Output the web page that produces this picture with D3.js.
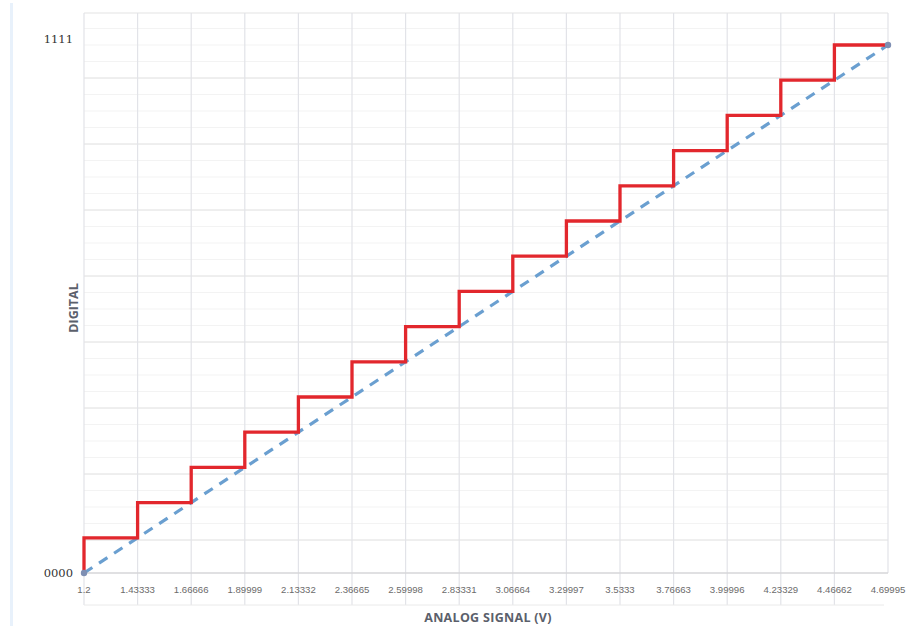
<!DOCTYPE html>
<html><head><meta charset="utf-8">
<script src="https://cdn.jsdelivr.net/npm/d3@7"></script>
<style>
html,body{margin:0;padding:0;background:#fff;}
svg{display:block;}
</style></head>
<body>
<svg id="chart" width="907" height="626"></svg>
<script>
// ---- data ----
const analogTicks = ["1.2","1.43333","1.66666","1.89999","2.13332","2.36665","2.59998","2.83331","3.06664","3.29997","3.5333","3.76663","3.99996","4.23329","4.46662","4.69995"];
const analogValues = [1.2,1.43333,1.66666,1.89999,2.13332,2.36665,2.59998,2.83331,3.06664,3.29997,3.5333,3.76663,3.99996,4.23329,4.46662,4.69995];
const digitalLevels = [1,2,3,4,5,6,7,8,9,10,11,12,13,14,15,15];
const idealLine = [[1.2,0],[4.69995,15]];
const yTickValues = [0,15];
const yTickLabels = ["0000","1111"];

const svg = d3.select("#chart");
const left = 84, right = 888, bottom = 573, top15 = 45, frameTop = 13, tableBottom = 605;

const x = d3.scaleLinear().domain([analogValues[0], analogValues[analogValues.length-1]]).range([left, right]);
const y = d3.scaleLinear().domain([0, 15]).range([bottom, top15]);
const yMax = y.invert(frameTop);

// faint left strip
svg.append("rect").attr("x",10).attr("y",3).attr("width",3).attr("height",623).attr("fill","#e8f1fb");

// minor horizontal gridlines
const majorStep = 15/8;
const minorVals = d3.range(0, 33).map(k => majorStep/2 + k*majorStep/4).filter(v => v > 0.1 && v < yMax);
svg.append("g").selectAll("line").data(minorVals).join("line")
  .attr("x1", left).attr("x2", right)
  .attr("y1", d => y(d)).attr("y2", d => y(d))
  .attr("stroke", "#f3f3f3").attr("stroke-width", 1);

// major horizontal gridlines
const majorVals = d3.range(0, 9).map(k => majorStep/2 + k*majorStep).filter(v => v < yMax - 0.1);
svg.append("g").selectAll("line").data(majorVals).join("line")
  .attr("x1", left).attr("x2", right)
  .attr("y1", d => y(d)).attr("y2", d => y(d))
  .attr("stroke", "#e4e4e4").attr("stroke-width", 1);

// frame top
svg.append("line").attr("x1", left).attr("x2", right).attr("y1", y(yMax)).attr("y2", y(yMax))
  .attr("stroke", "#e4e4e4").attr("stroke-width", 1.2);

// vertical gridlines
svg.append("g").selectAll("line").data(analogValues).join("line")
  .attr("x1", d => x(d)).attr("x2", d => x(d))
  .attr("y1", y(yMax)).attr("y2", (d,i) => i === analogValues.length-1 ? bottom : tableBottom)
  .attr("stroke", "#e2e3e8").attr("stroke-width", 1.2);

// x axis line and table bottom
svg.append("line").attr("x1", left).attr("x2", right).attr("y1", bottom).attr("y2", bottom)
  .attr("stroke", "#d6d6d9").attr("stroke-width", 1.5);
svg.append("line").attr("x1", left).attr("x2", right - 4).attr("y1", tableBottom).attr("y2", tableBottom)
  .attr("stroke", "#eaeaea").attr("stroke-width", 1);

// x tick labels
svg.append("g").selectAll("text").data(analogTicks).join("text")
  .attr("x", (d,i) => x(analogValues[i]))
  .attr("y", 593)
  .attr("text-anchor", "middle")
  .attr("font-family", "'Liberation Sans', Arial, sans-serif")
  .attr("font-size", 9.6)
  .attr("fill", "#6b6b6b")
  .text(d => d);

// y tick labels
svg.append("g").selectAll("text").data(yTickValues).join("text")
  .attr("x", 73)
  .attr("y", (d,i) => y(d) + (i === 0 ? 3.5 : -2))
  .attr("text-anchor", "end")
  .attr("font-family", "'DejaVu Serif', 'Liberation Serif', serif")
  .attr("font-size", 11.5)
  .attr("fill", "#333")
  .text((d,i) => yTickLabels[i]);

// ideal dashed line
const lineGen = d3.line().x(d => x(d[0])).y(d => y(d[1]));
svg.append("path").attr("d", lineGen(idealLine))
  .attr("fill", "none").attr("stroke", "#6a9fd0").attr("stroke-width", 3.2)
  .attr("stroke-dasharray", "10,8");

// staircase
const stepPts = [[analogValues[0], 0]].concat(analogValues.map((v,i) => [v, digitalLevels[i]]));
const stepGen = d3.line().x(d => x(d[0])).y(d => y(d[1])).curve(d3.curveStepAfter);
svg.append("path").attr("d", stepGen(stepPts))
  .attr("fill", "none").attr("stroke", "#e2272d").attr("stroke-width", 3.3)
  .attr("stroke-linejoin", "miter");

// endpoint markers
svg.append("g").selectAll("circle").data(idealLine).join("circle")
  .attr("cx", d => x(d[0])).attr("cy", d => y(d[1])).attr("r", 3.2)
  .attr("fill", "#7e8fb3");

// axis titles
svg.append("text").attr("x", 488).attr("y", 622)
  .attr("text-anchor", "middle")
  .attr("font-family", "'Open Sans', 'Liberation Sans', sans-serif")
  .attr("font-weight", "bold").attr("font-size", 12.5).attr("fill", "#5b606b")
  .attr("letter-spacing", 0.3)
  .text("ANALOG  SIGNAL  (V)");

svg.append("text")
  .attr("transform", "translate(78,308) rotate(-90)")
  .attr("text-anchor", "middle")
  .attr("font-family", "'Open Sans', 'Liberation Sans', sans-serif")
  .attr("font-weight", "bold").attr("font-size", 12.5).attr("fill", "#5b606b")
  .text("DIGITAL");
</script>
</body></html>
